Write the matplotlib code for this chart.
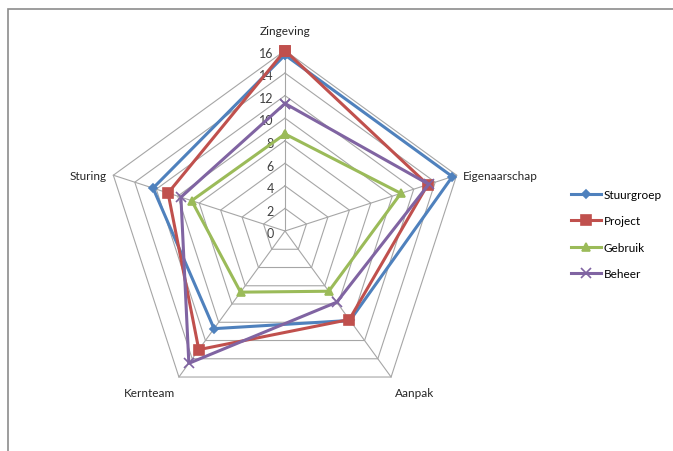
import numpy as np
import matplotlib
matplotlib.use('Agg')
import matplotlib.pyplot as plt
from matplotlib.patches import Rectangle

categories = ['Zingeving', 'Eigenaarschap', 'Aanpak', 'Kernteam', 'Sturing']
series_names = ['Stuurgroep', 'Project', 'Gebruik', 'Beheer']
stuurgroep = [15.6, 15.6, 9.8, 10.7, 12.3]
project = [16.0, 13.3, 9.7, 13.0, 10.9]
gebruik = [8.6, 10.8, 6.6, 6.7, 8.7]
beheer = [11.3, 13.4, 7.8, 14.5, 9.7]
ticks = [0, 2, 4, 6, 8, 10, 12, 14, 16]

colors = ['#4F81BD', '#C0504D', '#9BBB59', '#8064A2']
markers = ['D', 's', '^', 'x']
msizes = [4.5, 6.5, 5.5, 6.5]

plt.rcParams['font.family'] = ['Lato', 'DejaVu Sans']

W, H = 673, 452
cx, cy = 285, 232  # centre in pixels (from top)
R = 180.5
rmax = 16
s = R / rmax

fig = plt.figure(figsize=(W / 100, H / 100), dpi=100)
ax = fig.add_axes([0, 0, 1, 1])
ax.set_xlim(-cx / s, (W - cx) / s)
ax.set_ylim(-(H - cy) / s, cy / s)
ax.axis('off')

# outer frame
fig.patches.append(Rectangle((8 / W, -0.1), 1.2, 1 - 10 / H + 0.1,
                             transform=fig.transFigure, fill=False,
                             edgecolor='#8c8c8c', linewidth=1.2))

n = len(categories)
angles = np.pi / 2 - np.arange(n) * 2 * np.pi / n


def xy(vals):
    v = np.asarray(vals, dtype=float)
    x = v * np.cos(angles)
    y = v * np.sin(angles)
    return np.append(x, x[0]), np.append(y, y[0])


grid_c = '#a6a6a6'
for t in ticks[1:]:
    gx, gy = xy([t] * n)
    ax.plot(gx, gy, color=grid_c, lw=0.8, zorder=1)
for a in angles:
    ax.plot([0, rmax * np.cos(a)], [0, rmax * np.sin(a)], color=grid_c, lw=0.8, zorder=1)

for t in ticks:
    ax.text(-1.0, t - 0.2, str(t), ha='right', va='center', fontsize=9, color='#404040', zorder=2)

# category labels
lab_off = [(0, 1.8, 'center', 'center'), (0.55, 0, 'left', 'center'),
           (0.3, -1.4, 'left', 'center'), (-0.3, -1.4, 'right', 'center'),
           (-0.55, 0, 'right', 'center')]
for cat, a, (dx, dy, ha, va) in zip(categories, angles, lab_off):
    ax.text(rmax * np.cos(a) + dx, rmax * np.sin(a) + dy, cat, ha=ha, va=va,
            fontsize=8.5, color='#262626')

for name, vals, c, m, ms in zip(series_names, [stuurgroep, project, gebruik, beheer],
                                colors, markers, msizes):
    px, py = xy(vals)
    ax.plot(px, py, color=c, lw=2.2, marker=m, markersize=ms, markeredgewidth=1.2,
            markeredgecolor=c, label=name, zorder=3)

fig.legend(loc='center left', bbox_to_anchor=(560 / W, 1 - 235 / H), frameon=False,
           fontsize=8.5, handlelength=2.6, labelspacing=1.3, handletextpad=0.2)

fig.savefig('out.png', dpi=100)
